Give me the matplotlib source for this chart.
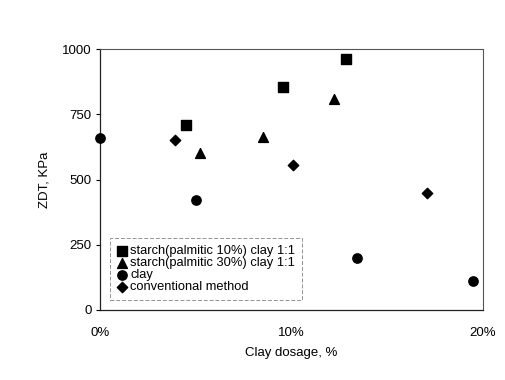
import matplotlib
matplotlib.use("Agg")
import matplotlib.pyplot as plt
from matplotlib.ticker import PercentFormatter

# clay dosage (fraction) and ZDT (kPa) for each series
sq_x = [0.045, 0.0955, 0.1285]
sq_y = [710, 855, 962]
tri_x = [0.052, 0.085, 0.122]
tri_y = [600, 662, 810]
circ_x = [0.0, 0.050, 0.134, 0.195]
circ_y = [660, 420, 200, 110]
dia_x = [0.039, 0.101, 0.171]
dia_y = [650, 555, 450]

labels = ["starch(palmitic 10%) clay 1:1", "starch(palmitic 30%) clay 1:1",
          "clay", "conventional method"]

plt.rcParams['font.family'] = ['Liberation Sans', 'DejaVu Sans']

fig = plt.figure(figsize=(5.06, 3.8), dpi=100)
ax = fig.add_axes([100/506, 1 - 310/380, 383/506, 261/380])

ax.scatter(sq_x, sq_y, marker='s', s=42, color='black', label=labels[0], zorder=3)
ax.scatter(tri_x, tri_y, marker='^', s=50, color='black', label=labels[1], zorder=3)
ax.scatter(circ_x, circ_y, marker='o', s=45, color='black',
           label=labels[2], zorder=3, clip_on=False)
ax.scatter(dia_x, dia_y, marker='D', s=28, color='black', label=labels[3], zorder=3)

ax.set_xlim(0, 0.2)
ax.set_ylim(0, 1000)
ax.set_xticks([0, 0.1, 0.2])
ax.xaxis.set_major_formatter(PercentFormatter(1.0, decimals=0))
ax.set_yticks([0, 250, 500, 750, 1000])
ax.tick_params(axis='x', length=0, pad=12, labelsize=9.5)
ax.tick_params(axis='y', length=3, direction='out', labelsize=9.5, pad=3)

for side in ['top', 'right']:
    ax.spines[side].set_color('#555555')
    ax.spines[side].set_linestyle((0, (2, 1)))
    ax.spines[side].set_linewidth(0.8)
for side in ['left', 'bottom']:
    ax.spines[side].set_color('#222222')
    ax.spines[side].set_linewidth(0.9)

ax.set_xlabel("Clay dosage, %", fontsize=9.5, labelpad=6)
ax.set_ylabel("ZDT, KPa", fontsize=9.5, labelpad=8)

leg = ax.legend(loc='lower left', bbox_to_anchor=(0.025, 0.04), fontsize=9.3,
                frameon=True, fancybox=False, borderpad=0.5, labelspacing=0.0,
                handletextpad=0.1, handlelength=1.0, borderaxespad=0)
leg.get_frame().set_edgecolor('#777777')
leg.get_frame().set_linewidth(0.7)
leg.get_frame().set_linestyle((0, (4, 2)))

fig.savefig("out.png", dpi=100)
